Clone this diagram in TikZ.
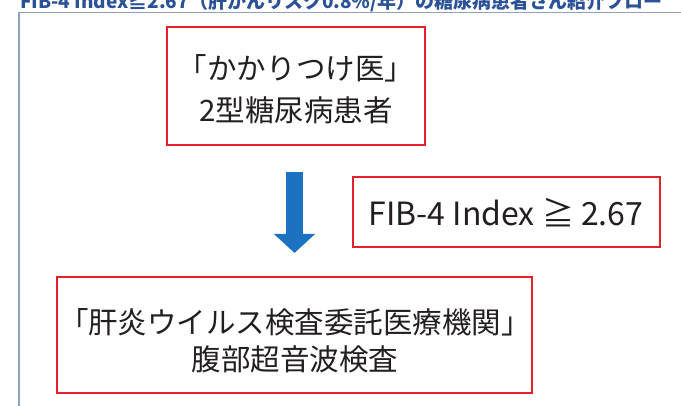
\documentclass[tikz,border=0pt]{standalone}
\usepackage{fontspec}
\setmainfont{Noto Sans CJK JP}
\usetikzlibrary{arrows.meta}
\definecolor{boxred}{HTML}{E5202A}
\definecolor{arrowblue}{HTML}{1A72C1}
\definecolor{framec}{HTML}{8FA2C6}
\definecolor{titleblue}{HTML}{2B5296}
\definecolor{txtc}{HTML}{231F20}
\tikzset{
  redbox/.style={draw=boxred, line width=2.2pt, fill=white, inner sep=0pt},
  boxtext/.style={text=txtc, align=center, inner sep=0pt, font=\fontsize{29.5}{#1}\selectfont},
}
\begin{document}
\begin{tikzpicture}[x=1pt,y=-1pt]
\useasboundingbox (0,0) rectangle (681,406);
\clip (0,0) rectangle (681,406);
\fill[white] (0,0) rectangle (681,406);
% title (cut off at the top, as in the reference)
\node[anchor=base west, inner sep=0pt, text=titleblue, font=\fontsize{19}{20}\selectfont\bfseries] (title) at (20,9)
  {FIB-4 Index≧2.67（肝がんリスク0.8\%/年）の糖尿病患者さん紹介フロー};
% frame
\draw[framec, line width=1.5pt] (19,430) -- (19,12.5) -- (700,12.5);
% boxes
\node[redbox, minimum width=258pt, minimum height=118pt] (b1) at (296,86) {};
\node[boxtext=42pt] (t1) at (296,89) {「かかりつけ医」\\2型糖尿病患者};
\node[redbox, minimum width=307pt, minimum height=70pt] (b2) at (506.5,212) {};
\node[boxtext=32pt, font=\fontsize{32}{32}\selectfont] (t2) at (506,213) {FIB-4 Index ≧ 2.67};
\node[redbox, minimum width=475pt, minimum height=116pt] (b3) at (294.5,335) {};
\node[boxtext=37pt] (t3) at (295,341) {「肝炎ウイルス検査委託医療機関」\\腹部超音波検査};
% arrow
\coordinate (a1) at (294.5,172);
\coordinate (a2) at (294.5,253);
\draw[arrowblue, line width=17pt, -{Triangle[width=40pt,length=19pt]}] (a1) -- (a2);
\end{tikzpicture}
\end{document}
